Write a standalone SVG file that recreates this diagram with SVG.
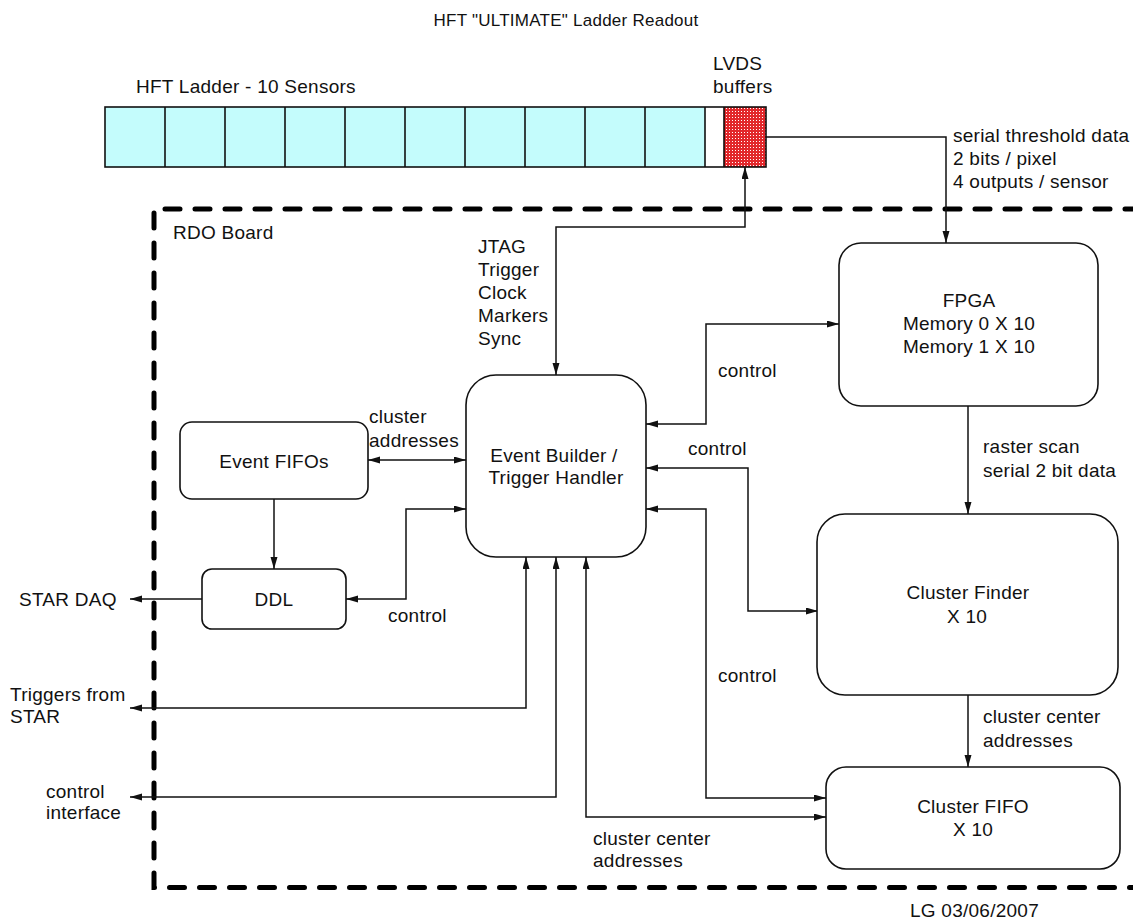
<svg xmlns="http://www.w3.org/2000/svg" width="1133" height="922" viewBox="0 0 1133 922">
<style>
text{font-family:"Liberation Sans",Arial,sans-serif;font-size:19px;fill:#111;letter-spacing:0.25px}
.t{font-size:17px}
.c{text-anchor:middle}
.box{fill:#fff;stroke:#111;stroke-width:1.6}
.ln{fill:none;stroke:#111;stroke-width:1.5}
.cell{stroke:#111;stroke-width:1.6}
</style>
<defs>
<marker id="ah" markerUnits="userSpaceOnUse" markerWidth="13" markerHeight="8" refX="12" refY="3.5" orient="auto-start-reverse">
<path d="M0,0 L12,3.5 L0,7 z" fill="#111"/>
</marker>
<pattern id="red" patternUnits="userSpaceOnUse" width="3" height="3">
<rect width="3" height="3" fill="#e2282c"/>
<rect width="1" height="1" fill="#fff"/>
</pattern>
</defs>
<rect width="1133" height="922" fill="#fff"/>
<text class="t c" x="566" y="26">HFT "ULTIMATE" Ladder Readout</text>

<g id="ladder">
<rect x="105" y="107" width="600" height="60" fill="#c4fcfc"/>
<rect x="724" y="107" width="42" height="60" fill="url(#red)"/>
<rect class="cell" x="105" y="107" width="661" height="60" fill="none"/>
<path class="cell" d="M165,107V167M225,107V167M285,107V167M345,107V167M405,107V167M465,107V167M525,107V167M585,107V167M645,107V167M705,107V167M724,107V167" fill="none"/>
<text x="136" y="93">HFT Ladder - 10 Sensors</text>
<text x="713" y="70">LVDS</text>
<text x="713" y="93">buffers</text>
</g>

<g id="rdo-board">
<path d="M1140,209 H154 V887.5 H1140" fill="none" stroke="#000" stroke-width="5" stroke-dasharray="15 15" stroke-linecap="round"/>
<text x="173" y="239">RDO Board</text>
</g>

<g id="connectors">
<path class="ln" d="M766,137 H946 V243" marker-end="url(#ah)"/>
<path class="ln" d="M745,167 V227 H556 V375" marker-start="url(#ah)" marker-end="url(#ah)"/>
<path class="ln" d="M839,324 H706 V424 H646" marker-start="url(#ah)" marker-end="url(#ah)"/>
<path class="ln" d="M646,468 H748 V611 H818" marker-start="url(#ah)" marker-end="url(#ah)"/>
<path class="ln" d="M646,509 H706 V798 H826" marker-start="url(#ah)" marker-end="url(#ah)"/>
<path class="ln" d="M586,557 V817 H826" marker-start="url(#ah)" marker-end="url(#ah)"/>
<path class="ln" d="M556,557 V797 H130" marker-start="url(#ah)" marker-end="url(#ah)"/>
<path class="ln" d="M526,557 V708 H130" marker-start="url(#ah)" marker-end="url(#ah)"/>
<path class="ln" d="M368,460 H466" marker-start="url(#ah)" marker-end="url(#ah)"/>
<path class="ln" d="M466,509 H406 V599 H346" marker-start="url(#ah)" marker-end="url(#ah)"/>
<path class="ln" d="M274,499 V569" marker-end="url(#ah)"/>
<path class="ln" d="M202,599 H130" marker-end="url(#ah)"/>
<path class="ln" d="M968,406 V514" marker-end="url(#ah)"/>
<path class="ln" d="M968,694 V767" marker-end="url(#ah)"/>
<text x="953" y="142">serial threshold data</text>
<text x="953" y="165">2 bits / pixel</text>
<text x="953" y="188">4 outputs / sensor</text>
<text x="478" y="253">JTAG</text>
<text x="478" y="276">Trigger</text>
<text x="478" y="299">Clock</text>
<text x="478" y="322">Markers</text>
<text x="478" y="345">Sync</text>
<text x="718" y="377">control</text>
<text x="369" y="423">cluster</text>
<text x="369" y="447">addresses</text>
<text x="688" y="455">control</text>
<text x="983" y="453">raster scan</text>
<text x="983" y="477">serial 2 bit data</text>
<text x="19" y="606">STAR DAQ</text>
<text x="388" y="622">control</text>
<text x="718" y="682">control</text>
<text x="10" y="701">Triggers from</text>
<text x="10" y="723">STAR</text>
<text x="983" y="723">cluster center</text>
<text x="983" y="747">addresses</text>
<text x="46" y="798">control</text>
<text x="46" y="819">interface</text>
<text x="593" y="845">cluster center</text>
<text x="593" y="867">addresses</text>
</g>

<g id="event-builder">
<rect class="box" x="466" y="375" width="180" height="182" rx="30"/>
<text class="c" x="554" y="462">Event Builder /</text>
<text class="c" x="556" y="484">Trigger Handler</text>
</g>
<g id="event-fifos">
<rect class="box" x="180" y="422" width="188" height="77" rx="12"/>
<text class="c" x="274" y="468">Event FIFOs</text>
</g>
<g id="ddl">
<rect class="box" x="202" y="569" width="144" height="60" rx="10"/>
<text class="c" x="274" y="606">DDL</text>
</g>
<g id="fpga">
<rect class="box" x="839" y="243" width="259" height="163" rx="22"/>
<text class="c" x="969" y="307">FPGA</text>
<text class="c" x="969" y="330">Memory 0 X 10</text>
<text class="c" x="969" y="353">Memory 1 X 10</text>
</g>
<g id="cluster-finder">
<rect class="box" x="817" y="514" width="301" height="181" rx="28"/>
<text class="c" x="968" y="599">Cluster Finder</text>
<text class="c" x="967" y="623">X 10</text>
</g>
<g id="cluster-fifo">
<rect class="box" x="826" y="767" width="294" height="102" rx="20"/>
<text class="c" x="973" y="813">Cluster FIFO</text>
<text class="c" x="973" y="836">X 10</text>
</g>
<text x="910" y="917">LG 03/06/2007</text>
</svg>
